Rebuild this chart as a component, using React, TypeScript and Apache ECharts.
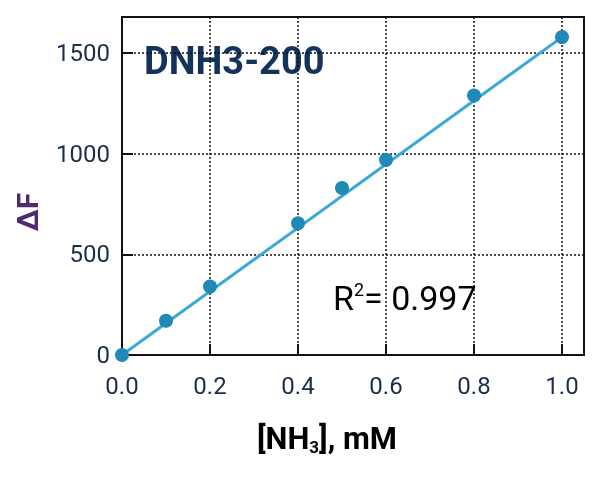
import { useEffect, useRef } from "react";
import * as echarts from "echarts";

// 数据：浓度 (mM) 与 ΔF
const concentrations = [0, 0.1, 0.2, 0.4, 0.5, 0.6, 0.8, 1.0];
const deltaF = [0, 170, 340, 655, 830, 970, 1290, 1580];
// 拟合直线两端
const fitX = [0, 1.0];
const fitY = [0, 1580];
const xTicks = [0, 0.2, 0.4, 0.6, 0.8, 1.0];
const yTicks = [0, 500, 1000, 1500];

const App = () => {
  const chartRef = useRef(null);

  useEffect(() => {
    const chart = echarts.init(chartRef.current, null, { renderer: "svg" });
    const font = "Roboto";
    const dark = "#1c2f4a";

    const option = {
      animation: false,
      textStyle: { fontFamily: font },
      grid: { left: 122, top: 17, right: 16, bottom: 126 },
      xAxis: [
        {
          type: "value",
          min: 0,
          max: 1.05,
          interval: 0.2,
          axisLine: { lineStyle: { color: "#111", width: 2 } },
          axisTick: { inside: true, length: 11, lineStyle: { color: "#111", width: 2 } },
          axisLabel: {
            showMaxLabel: false,
            margin: 19,
            fontSize: 24,
            color: dark,
            fontFamily: font,
            formatter: (v: number) => (xTicks.includes(Math.round(v * 10) / 10) ? v.toFixed(1) : ""),
          },
          splitLine: { show: true, lineStyle: { color: "#111", type: [2, 2], width: 1.5 } },
        },
        {
          type: "value",
          position: "top",
          min: 0,
          max: 1.05,
          axisLine: { show: true, onZero: false, lineStyle: { color: "#111", width: 2 } },
          axisTick: { show: false },
          axisLabel: { show: false },
          splitLine: { show: false },
        },
      ],
      yAxis: [
        {
          type: "value",
          min: 0,
          max: 1680,
          interval: 500,
          axisLine: { show: true, lineStyle: { color: "#111", width: 2 } },
          axisTick: { show: true, inside: true, length: 11, lineStyle: { color: "#111", width: 2 } },
          axisLabel: {
            showMaxLabel: false,
            margin: 12,
            fontSize: 24,
            color: dark,
            fontFamily: font,
            formatter: (v: number) => (yTicks.includes(v) ? String(v) : ""),
          },
          splitLine: { show: true, lineStyle: { color: "#111", type: [2, 2], width: 1.5 } },
        },
        {
          type: "value",
          position: "right",
          min: 0,
          max: 1680,
          axisLine: { show: true, onZero: false, lineStyle: { color: "#111", width: 2 } },
          axisTick: { show: false },
          axisLabel: { show: false },
          splitLine: { show: false },
        },
      ],
      series: [
        {
          type: "line",
          data: fitX.map((x, i) => [x, fitY[i]]),
          symbol: "none",
          lineStyle: { color: "#3ba9d6", width: 3 },
          z: 2,
        },
        {
          type: "scatter",
          data: concentrations.map((x, i) => [x, deltaF[i]]),
          symbolSize: 14,
          itemStyle: { color: "#1e8ab5", opacity: 1 },
          z: 3,
        },
      ],
      graphic: [
        {
          type: "text",
          left: 144,
          top: 42,
          style: {
            text: "DNH3-200",
            fontFamily: font,
            fontSize: 38,
            fontWeight: "bold",
            fill: "#13335a",
          },
        },
        {
          type: "text",
          left: 333,
          top: 275,
          style: {
            text: "{a|R}{s|2}{a|= 0.997}",
            fontFamily: font,
            rich: {
              a: { fontSize: 34, fontFamily: font, color: "#1d3350", lineHeight: 40, verticalAlign: "bottom" },
              s: { fontSize: 18, fontFamily: font, color: "#1d3350", lineHeight: 40, verticalAlign: "top", padding: [5, 0, 0, 0] },
            },
          },
        },
        {
          type: "text",
          left: 257,
          top: 423,
          style: {
            text: "{b|[NH}{u|3}{b|], mM}",
            fontFamily: font,
            rich: {
              b: { fontSize: 31, fontWeight: "bold", fontFamily: font, color: "#17365d", lineHeight: 38 },
              u: { fontSize: 17, fontWeight: "bold", fontFamily: font, color: "#17365d", lineHeight: 38, verticalAlign: "bottom", padding: [0, 0, 2, 0] },
            },
          },
        },
        {
          type: "text",
          x: 27,
          y: 212,
          rotation: Math.PI / 2,
          style: {
            text: "ΔF",
            fontFamily: font,
            fontSize: 30,
            fontWeight: "bold",
            fill: "#4f2a6e",
            align: "center",
            verticalAlign: "middle",
          },
        },
      ],
    };
    chart.setOption(option);

    return () => {
      chart.dispose();
    };
  }, []);

  return (
    <div
      ref={chartRef}
      style={{ position: "fixed", left: 0, top: 0, width: 600, height: 481 }}
    />
  );
};

export default App;
